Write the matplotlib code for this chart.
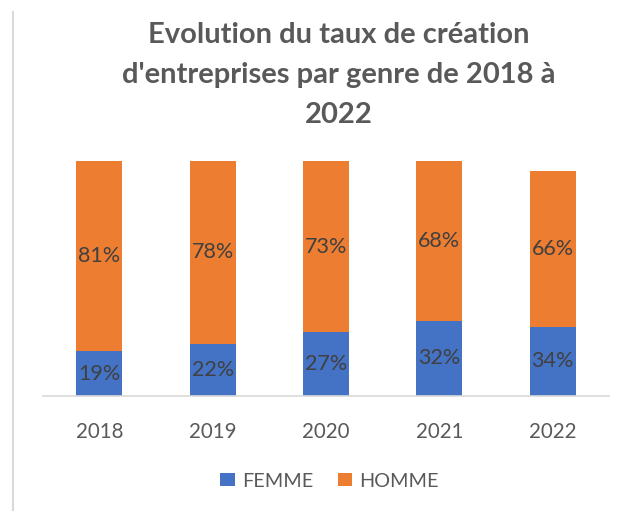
import matplotlib
matplotlib.use("Agg")
import matplotlib.pyplot as plt
from matplotlib.lines import Line2D
from matplotlib.patches import Patch

# ---- data ----
years = ["2018", "2019", "2020", "2021", "2022"]
femme = [19, 22, 27, 32, 29.5]
homme = [81, 78, 73, 68, 66]
femme_labels = ["19%", "22%", "27%", "32%", "34%"]
homme_labels = ["81%", "78%", "73%", "68%", "66%"]
series_names = ["FEMME", "HOMME"]
title_lines = ["Evolution du taux de création",
               "d'entreprises par genre de 2018 à",
               "2022"]

BLUE = "#4472C4"
ORANGE = "#ED7D31"
GRAY = "#595959"
LABEL = "#404040"
FONT = ["Lato", "DejaVu Sans"]

W, H = 625, 511
fig = plt.figure(figsize=(W / 100, H / 100), dpi=100)
fig.patch.set_facecolor("white")

# axes placement in pixels
left, right, bottom, top = 42.6, 609.4, 396.0, 160.7
ax = fig.add_axes([left / W, 1 - bottom / H, (right - left) / W, (bottom - top) / H])

x = list(range(len(years)))
bw = 0.406
ax.bar(x, femme, width=bw, color=BLUE, zorder=2)
ax.bar(x, homme, width=bw, bottom=femme, color=ORANGE, zorder=2)

for i in x:
    ax.text(i, femme[i] / 2, femme_labels[i], ha="center", va="center",
            fontsize=15.5, color=LABEL, family=FONT)
    ax.text(i, femme[i] + homme[i] / 2, homme_labels[i], ha="center", va="center",
            fontsize=15.5, color=LABEL, family=FONT)

ax.set_xlim(-0.5, len(years) - 0.5)
ax.set_ylim(0, 100)
ax.set_xticks(x)
ax.set_xticklabels(years, fontsize=14.8, color=GRAY, family=FONT)
ax.tick_params(axis="x", length=0, pad=18.5)
ax.set_yticks([])
for s in ["top", "right", "left"]:
    ax.spines[s].set_visible(False)
ax.spines["bottom"].set_color("#D9D9D9")
ax.spines["bottom"].set_linewidth(1.2)
ax.spines["bottom"].set_zorder(3)

# title lines (baselines in pixels)
baselines = [43.3, 82.7, 122.7]
for line, b in zip(title_lines, baselines):
    fig.text(339 / W, 1 - b / H, line, ha="center", va="baseline",
             fontsize=21, fontweight="bold", color=GRAY, family=FONT)

# legend
handles = [Patch(facecolor=BLUE, edgecolor="none"), Patch(facecolor=ORANGE, edgecolor="none")]
fig.legend(handles, series_names, loc="center", bbox_to_anchor=(329.5 / W, 1 - 481 / H),
           ncol=2, frameon=False, prop={"family": FONT, "size": 14.3},
           labelcolor=GRAY, handlelength=0.72, handleheight=0.67,
           handletextpad=0.36, columnspacing=1.24, borderaxespad=0)

# left border line
fig.add_artist(Line2D([13.3 / W, 13.3 / W], [0, 1 - 12 / H], color="#D9D9D9",
                      linewidth=1.5, transform=fig.transFigure))

fig.savefig("out.png", dpi=100)
